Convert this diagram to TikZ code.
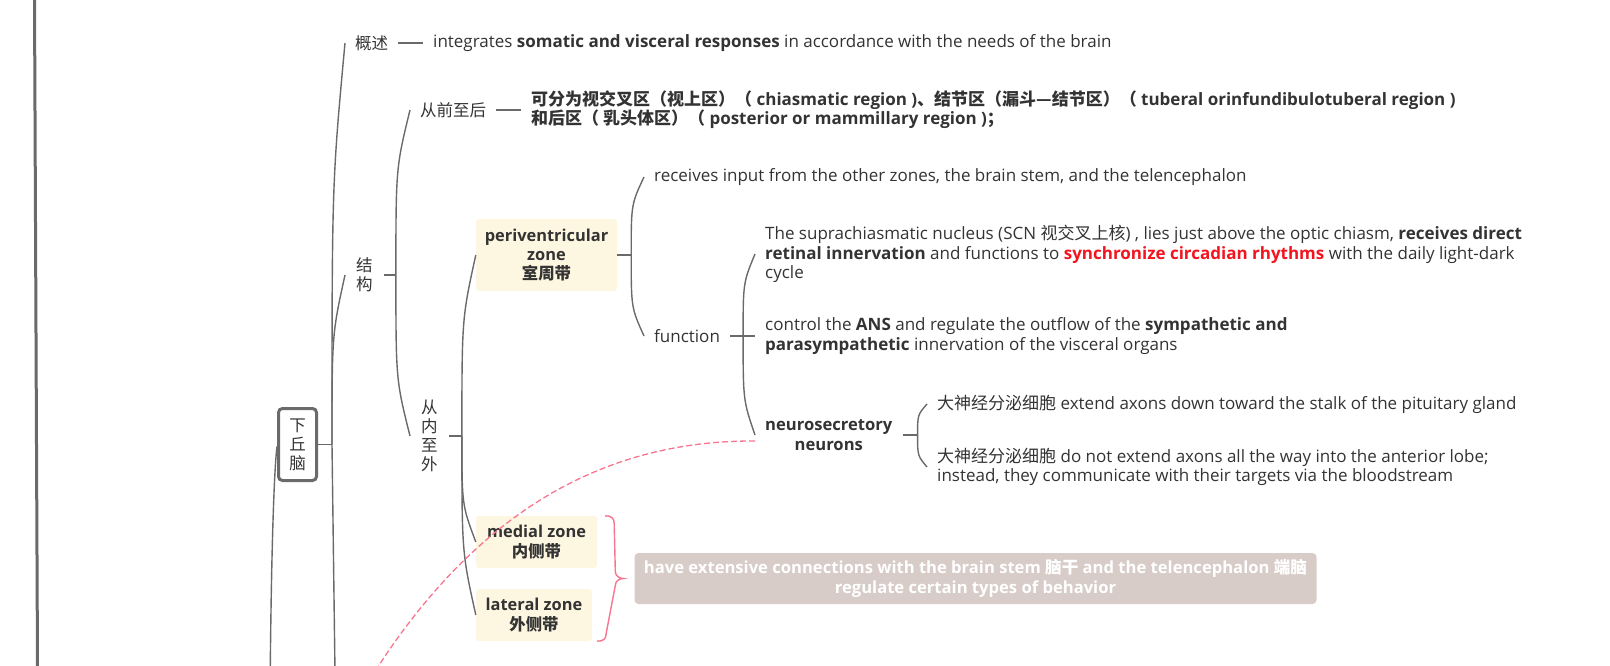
\documentclass[tikz,border=0pt]{standalone}
\usepackage{fontspec}
\setmainfont{Open Sans}
\newfontfamily\cjk{Noto Sans CJK SC}
\newcommand\zh[1]{{\cjk #1}}
\usetikzlibrary{calc}
\definecolor{lnc}{HTML}{6A6A6A}
\definecolor{txc}{HTML}{333333}
\definecolor{cream}{HTML}{FDF6E1}
\definecolor{grayb}{HTML}{D7CCC8}
\definecolor{pinkc}{HTML}{F7758E}
\definecolor{redt}{HTML}{F2141E}
\tikzset{
  every node/.style={font=\fontsize{17}{19.3}\selectfont, text=txc},
  txt/.style={anchor=west, inner xsep=10pt, inner ysep=2pt, align=left},
  vert/.style={font={\cjk\fontsize{16.5}{19}\selectfont}, align=center, inner xsep=11pt, inner ysep=2pt},
  zone/.style={fill=cream, rounded corners=3pt, align=center, font=\fontsize{16.4}{19.3}\selectfont\bfseries, inner sep=0pt},
  conn/.style={draw=lnc, line width=1.4pt},
  pinkdash/.style={draw=pinkc, line width=1.3pt, dash pattern=on 6pt off 3pt},
}
\newcommand\brch[2]{\draw[conn] (#1) .. controls ($(#1 |- #2)!0.35!(#1)$) .. (#2);}
\begin{document}
\begin{tikzpicture}[x=1pt,y=-1pt]
\useasboundingbox (0,0) rectangle (1610,666);
\clip (0,0) rectangle (1610,666);

% left border line
\draw[lnc, line width=3pt] (34.5,0) -- (37.5,666);

% root
\node[draw=lnc, line width=3pt, rounded corners=4pt, fill=white, minimum width=38pt, minimum height=72pt, inner sep=0pt, font={\cjk\fontsize{16.5}{19}\selectfont}, align=center] (root) at (297.5,444.5) {下\\丘\\脑};
\coordinate (rootpar) at (270,700);
\draw[conn] ($(root.west)+(0,2)$) .. controls (274,470) and (271,560) .. (rootpar);

% level 1
\node[txt, font={\cjk\fontsize{16.5}{19}\selectfont}] (gaishu) at (345,43) {概述};
\node[txt] (integ) at (423,43) {integrates \textbf{somatic and visceral responses} in accordance with the needs of the brain};
\node[vert, anchor=west] (jiegou) at (345,275) {结\\构};
\coordinate (more) at (338,900);

\draw[conn] (root.east) -- ++(14,0) coordinate (j1);
\brch{j1}{gaishu.west}
\brch{j1}{jiegou.west}
\draw[conn] (j1) -- (more);
\draw[conn] (gaishu.east) -- (integ.west);

% level 2
\node[txt, font={\cjk\fontsize{16.5}{19}\selectfont}] (cqzh) at (410,110) {从前至后};
\node[txt, font=\fontsize{17}{19.3}\selectfont\bfseries] (order) at (521,110) {\zh{可分为视交叉区（视上区）（} chiasmatic region )\zh{、结节区（漏斗—结节区）（} tuberal orinfundibulotuberal region )\\\zh{和后区（ 乳头体区）（} posterior or mammillary region )\zh{；}};
\node[vert, anchor=west] (cnzw) at (410,436) {从\\内\\至\\外};

\draw[conn] (jiegou.east) -- ++(12,0) coordinate (j2);
\brch{j2}{cqzh.west}
\brch{j2}{cnzw.west}
\draw[conn] (cqzh.east) -- (order.west);

% zones
\node[zone, minimum width=141pt, minimum height=72pt] (peri) at (546.5,255) {periventricular\\zone\\\zh{室周带}};
\node[zone, minimum width=121pt, minimum height=52pt] (medial) at (536.5,542) {medial zone\\\zh{内侧带}};
\node[zone, minimum width=116pt, minimum height=52pt] (lateral) at (534,615) {lateral zone\\\zh{外侧带}};

\draw[conn] (cnzw.east) -- ++(13,0) coordinate (j3);
\brch{j3}{peri.west}
\brch{j3}{medial.west}
\brch{j3}{lateral.west}

% periventricular children
\node[txt] (recv) at (644,177) {receives input from the other zones, the brain stem, and the telencephalon};
\node[txt] (func) at (644,336) {function};
\draw[conn] (peri.east) -- ++(14,0) coordinate (j4);
\brch{j4}{recv.west}
\brch{j4}{func.west}

% function children
\node[txt] (scn) at (755,254) {The suprachiasmatic nucleus (SCN \zh{视交叉上核}) , lies just above the optic chiasm, \textbf{receives direct}\\\textbf{retinal innervation} and functions to \textcolor{redt}{\textbf{synchronize circadian rhythms}} with the daily light-dark\\cycle};
\node[txt] (ans) at (755,336) {control the \textbf{ANS} and regulate the outflow of the \textbf{sympathetic and}\\\textbf{parasympathetic} innervation of the visceral organs};
\node[txt, align=center, font=\fontsize{16.6}{19.3}\selectfont\bfseries] (neuro) at (755,435) {neurosecretory\\neurons};

\draw[conn] (func.east) -- ++(13,0) coordinate (j5);
\draw[conn] (j5) -- (ans.west);
\brch{j5}{scn.west}
\brch{j5}{neuro.west}

% neurosecretory children
\node[txt] (big1) at (927,404) {\zh{大神经分泌细胞} extend axons down toward the stalk of the pituitary gland};
\node[txt] (big2) at (927,467) {\zh{大神经分泌细胞} do not extend axons all the way into the anterior lobe;\\instead, they communicate with their targets via the bloodstream};
\draw[conn] (neuro.east) -- ++(15,0) coordinate (j6);
\brch{j6}{big1.west}
\brch{j6}{big2.west}

% summary brace and box
\node[fill=grayb, rounded corners=4pt, minimum width=682pt, minimum height=51pt, inner sep=0pt, align=center, text=white, font=\fontsize{16.6}{19.3}\selectfont\bfseries] (summ) at (975.5,578.5) {have extensive connections with the brain stem \zh{脑干} and the telencephalon \zh{端脑}\\regulate certain types of behavior};
\coordinate (bt) at ($(medial.north east)+(8,0)$);
\coordinate (bb) at ($(lateral.south east)+(13,0)$);
\coordinate (btip) at ($(summ.west)+(-11,0)$);
\draw[pinkc, line width=1.4pt] (bt) .. controls ++(6,0) and ++(0,-6) .. ++(9,8) -- ($(btip)+(-8,-7)$) .. controls ++(0,5) and ++(-3,0) .. (btip) .. controls ++(-3,0) and ++(0,-5) .. ($(btip)+(-8,7)$) -- ($(bb)+(1,-8)$) .. controls ++(0,6) and ++(6,0) .. ($(bb)+(-8,0)$);

% relationship
\coordinate (relend) at (335,740);
\draw[pinkdash] ($(neuro.west)+(0,6)$) .. controls (560,440) and (430,560) .. (relend);
\end{tikzpicture}
\end{document}
